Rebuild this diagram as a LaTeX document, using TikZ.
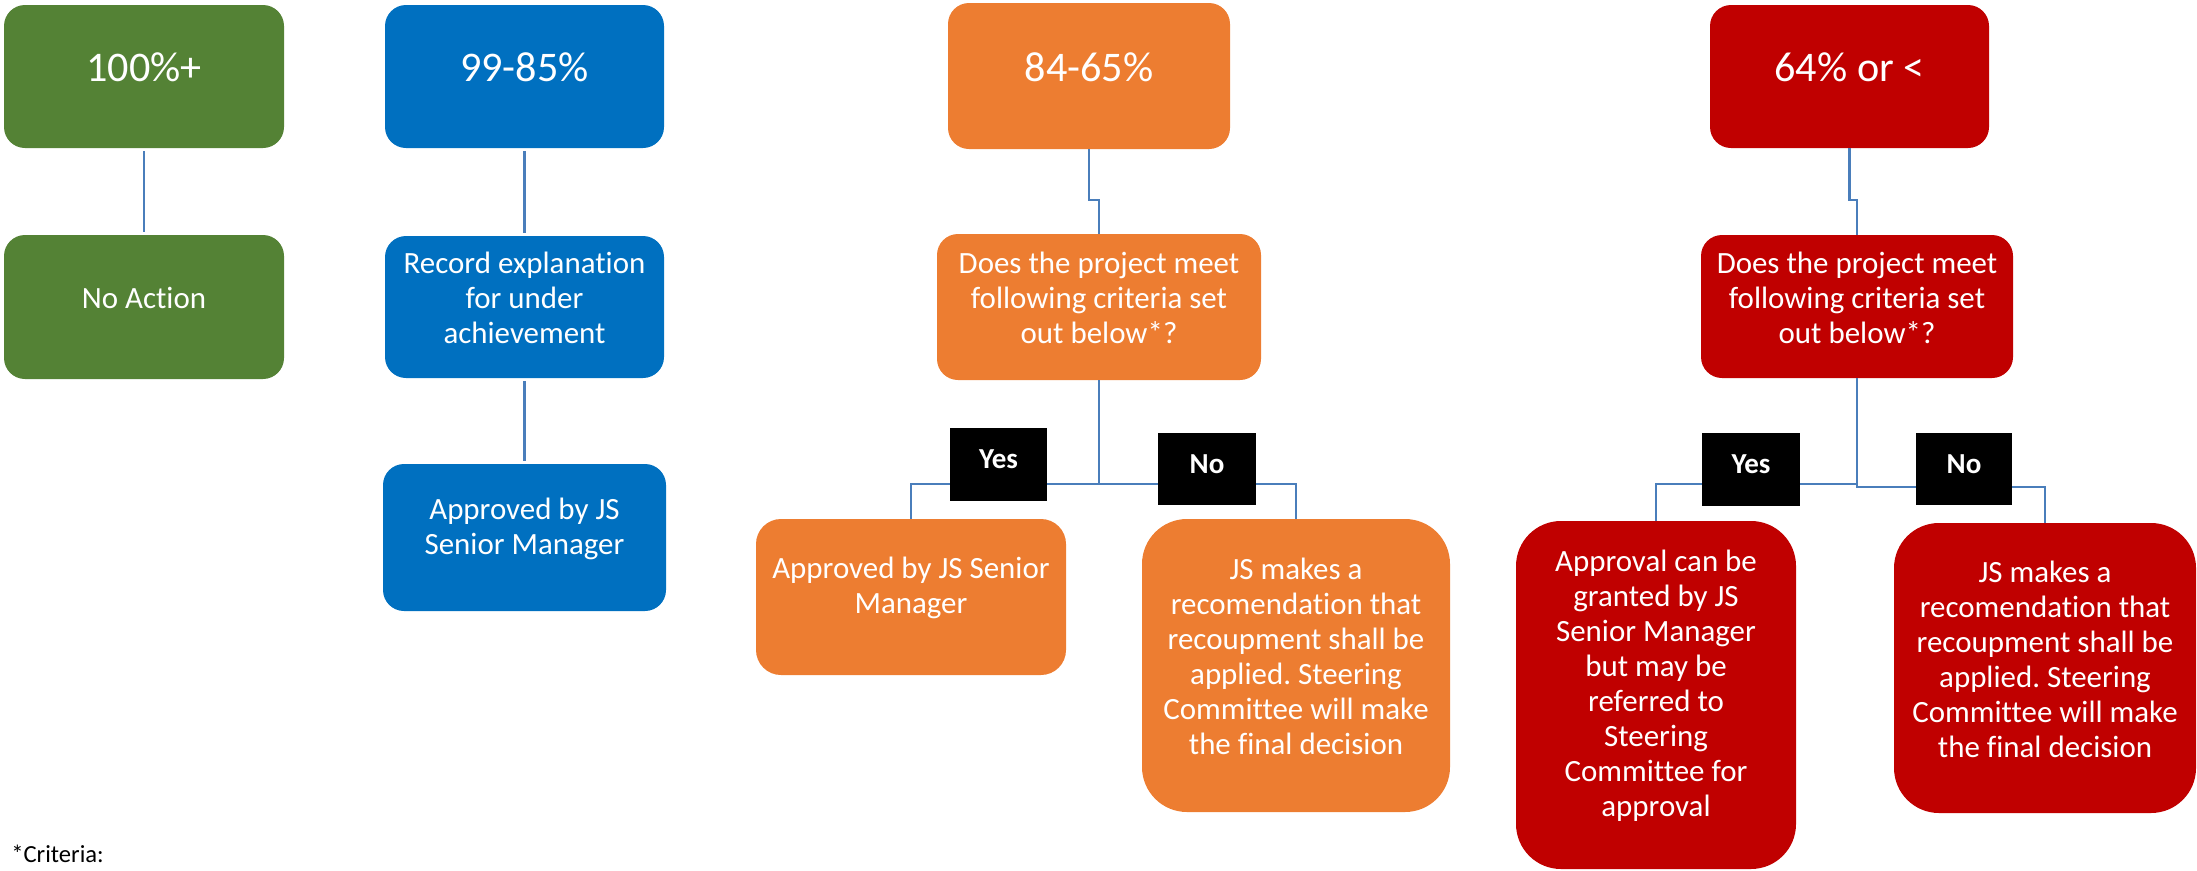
\documentclass[tikz,border=0pt]{standalone}
\usepackage{fontspec}
\setmainfont[Ligatures=NoCommon]{Carlito}
\usepackage{tikz}
\usetikzlibrary{positioning,calc}
\definecolor{green_c}{RGB}{84,130,53}
\definecolor{blue_c}{RGB}{0,112,192}
\definecolor{orange_c}{RGB}{237,125,49}
\definecolor{red_c}{RGB}{192,0,0}
\definecolor{link_c}{RGB}{74,126,187}
\frenchspacing

\begin{document}
\begin{tikzpicture}[
  box/.style={rounded corners=0.42cm, inner sep=0pt, outer sep=0pt},
  tallbox/.style={box, rounded corners=0.9cm},
  big/.style={text=white, yshift=0.18cm, font=\fontsize{24}{29}\selectfont},
  txt/.style={text=white, yshift=0.18cm, align=center, font=\fontsize{17.6}{19.9}\selectfont},
  yn/.style={fill=black, text=white, inner sep=0pt, outer sep=0pt, text depth=0.2cm,
             font=\bfseries\fontsize{16.5}{20}\selectfont},
  link/.style={draw=link_c, line width=1.5pt},
  gap/.style={shorten <=0.06cm, shorten >=0.06cm},
]
\useasboundingbox (0,0) rectangle (43.94,-17.4);
% 100%+
\node[box, fill=green_c, minimum width=5.6cm, minimum height=2.86cm,
      label={[big]center:100\%+}] (g1) at (2.88,-1.53) {};
\node[box, fill=green_c, minimum width=5.6cm, minimum height=2.88cm,
      label={[txt]center:No Action}] (g2) at (2.88,-6.14) {};
% 99-85%
\node[box, fill=blue_c, minimum width=5.58cm, minimum height=2.86cm,
      label={[big]center:99-85\%}] (b1) at (10.49,-1.53) {};
\node[box, fill=blue_c, minimum width=5.58cm, minimum height=2.84cm,
      label={[txt]center:Record explanation\\for under\\achievement}] (b2) at (10.49,-6.14) {};
\node[box, fill=blue_c, minimum width=5.66cm, minimum height=2.94cm,
      label={[txt]center:Approved by JS\\Senior Manager}] (b3) at (10.49,-10.75) {};
% 84-65%
\node[box, fill=orange_c, minimum width=5.64cm, minimum height=2.92cm,
      label={[big]center:84-65\%}] (o1) at (21.78,-1.52) {};
\node[box, fill=orange_c, minimum width=6.48cm, minimum height=2.92cm,
      label={[txt]center:Does the project meet\\following criteria set\\out below*?}] (o2) at (21.98,-6.14) {};
\node[box, fill=orange_c, minimum width=6.2cm, minimum height=3.12cm, rounded corners=0.5cm,
      label={[txt]center:Approved by JS Senior\\Manager}] (o3) at (18.22,-11.94) {};
\node[tallbox, fill=orange_c, minimum width=6.16cm, minimum height=5.86cm,
      label={[txt]center:JS makes a\\recomendation that\\recoupment shall be\\applied. Steering\\Committee will make\\the final decision}] (o4) at (25.92,-13.31) {};
% 64% or <
\node[box, fill=red_c, minimum width=5.58cm, minimum height=2.86cm,
      label={[big]center:64\% or <}] (r1) at (36.99,-1.53) {};
\node[box, fill=red_c, minimum width=6.24cm, minimum height=2.86cm,
      label={[txt]center:Does the project meet\\following criteria set\\out below*?}] (r2) at (37.14,-6.13) {};
\node[tallbox, fill=red_c, minimum width=5.6cm, minimum height=6.96cm,
      label={[txt]center:Approval can be\\granted by JS\\Senior Manager\\but may be\\referred to\\Steering\\Committee for\\approval}] (r3) at (33.12,-13.9) {};
\node[tallbox, fill=red_c, minimum width=6.04cm, minimum height=5.8cm,
      label={[txt]center:JS makes a\\recomendation that\\recoupment shall be\\applied. Steering\\Committee will make\\the final decision}] (r4) at (40.9,-13.36) {};
% connectors
\draw[link, gap] (g1) -- (g2);
\draw[link, gap] (b1) -- (b2);
\draw[link, gap] (b2) -- (b3);
\draw[link] (o1.south) -- ++(0,-1.02) -| (o2.north);
\draw[link] (o2.south) -- ++(0,-2.08) -| (o3.north);
\draw[link] (o2.south) -- ++(0,-2.08) -| (o4.north);
\draw[link] (r1.south) -- ++(0,-1.04) -| (r2.north);
\draw[link] (r2.south) -- ++(0,-2.12) -| (r3.north);
\draw[link] (r2.south) -- ++(0,-2.18) -| (r4.north);
% yes / no tags
\node[yn, minimum width=1.94cm, minimum height=1.46cm] (y1) at (19.97,-9.29) {Yes};
\node[yn, minimum width=1.96cm, minimum height=1.44cm] (n1) at (24.14,-9.38) {No};
\node[yn, minimum width=1.96cm, minimum height=1.46cm] (y2) at (35.02,-9.39) {Yes};
\node[yn, minimum width=1.92cm, minimum height=1.44cm] (n2) at (39.28,-9.38) {No};
\node[anchor=base west, inner sep=0pt, font=\fontsize{14}{17}\selectfont] (crit) at (0.22,-17.24) {*Criteria:};
\end{tikzpicture}
\end{document}
